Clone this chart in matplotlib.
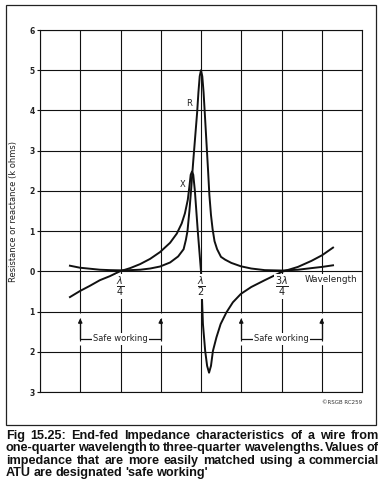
import matplotlib
matplotlib.use('Agg')
import matplotlib.pyplot as plt
from matplotlib.patches import Rectangle
from matplotlib.font_manager import FontProperties

W, H, DPI = 383, 504, 100

# ---- data (x in wavelengths, y in k ohms; negative = capacitive reactance) ----
r_x = [0.093, 0.124, 0.155, 0.186, 0.217, 0.248, 0.280, 0.311, 0.342, 0.373,
       0.404, 0.429, 0.446, 0.453, 0.458, 0.464, 0.469, 0.476, 0.482, 0.488,
       0.492, 0.496, 0.500, 0.504, 0.508, 0.512, 0.517, 0.522, 0.526, 0.531,
       0.536, 0.542, 0.550, 0.562, 0.575, 0.594, 0.624, 0.656, 0.698, 0.752,
       0.801, 0.843, 0.876, 0.910]
r_y = [0.14, 0.09, 0.065, 0.04, 0.03, 0.025, 0.03, 0.04, 0.07, 0.12,
       0.22, 0.37, 0.55, 0.78, 1.00, 1.50, 2.00, 2.75, 3.35, 3.95,
       4.45, 4.85, 5.00, 4.85, 4.45, 3.90, 3.20, 2.50, 1.90, 1.40,
       1.05, 0.75, 0.55, 0.36, 0.29, 0.21, 0.125, 0.07, 0.03, 0.02,
       0.04, 0.08, 0.11, 0.15]

x_x = [0.093, 0.124, 0.155, 0.186, 0.217, 0.248, 0.280, 0.311, 0.342, 0.373,
       0.404, 0.425, 0.440, 0.450, 0.459, 0.464, 0.468, 0.472, 0.476, 0.481,
       0.490, 0.500, 0.506, 0.513, 0.519, 0.525, 0.531, 0.537, 0.548, 0.561,
       0.579, 0.599, 0.624, 0.656, 0.698, 0.752, 0.801, 0.843, 0.876, 0.910]
x_y = [-0.64, -0.49, -0.36, -0.22, -0.12, 0.00, 0.08, 0.18, 0.31, 0.48,
       0.71, 0.94, 1.19, 1.44, 1.78, 2.11, 2.40, 2.48, 2.40, 2.00,
       1.00, 0.00, -1.31, -1.98, -2.35, -2.52, -2.35, -1.98, -1.64, -1.31,
       -1.02, -0.77, -0.56, -0.39, -0.22, -0.01, 0.11, 0.26, 0.40, 0.59]

y_ticks = [-3, -2, -1, 0, 1, 2, 3, 4, 5, 6]
y_tick_labels = ['3', '2', '1', '0', '1', '2', '3', '4', '5', '6']
x_grid = [0.0, 0.125, 0.25, 0.375, 0.5, 0.625, 0.75, 0.875, 1.0]
wl_marks = [0.25, 0.5, 0.75]
wl_labels = [r'$\frac{\lambda}{4}$', r'$\frac{\lambda}{2}$', r'$\frac{3\lambda}{4}$']
safe_ranges = [(0.125, 0.375), (0.625, 0.875)]
safe_label = 'Safe working'
caption_lines = [
    "Fig 15.25: End-fed Impedance characteristics of a wire from",
    "one-quarter wavelength to three-quarter wavelengths. Values of",
    "impedance that are more easily matched using a commercial",
    "ATU are designated 'safe working'",
]

fig = plt.figure(figsize=(W / DPI, H / DPI), dpi=DPI, facecolor='white')

L, R_, T, B = 40, 362, 30, 392
ax = fig.add_axes([L / W, 1 - B / H, (R_ - L) / W, (B - T) / H])
ax.set_xlim(0, 1)
ax.set_ylim(-3, 6)
ax.set_xticks(x_grid)
ax.set_xticklabels([])
ax.tick_params(axis='x', length=0)
ax.set_yticks(y_ticks)
ax.set_yticklabels(y_tick_labels, fontsize=5.5, fontweight='bold', color='#222')
ax.tick_params(axis='y', length=2.2, width=0.8, pad=1.5, color='#111')
ax.grid(True, color='#111', lw=0.8, zorder=1)
ax.set_axisbelow(True)
for s in ax.spines.values():
    s.set_linewidth(0.8)
    s.set_color('#111')
ax.set_ylabel('Resistance or reactance (k ohms)', fontsize=6, color='#222')
ax.yaxis.set_label_coords(-0.068, 0.5)

# gaps in grid near the safe-working arrows
for a, b in safe_ranges:
    for xv in (a, b):
        ax.plot([xv, xv], [-1.03, -1.15], color='white', lw=2.0, zorder=2,
                solid_capstyle='butt')
        ax.plot([xv, xv], [-1.72, -1.82], color='white', lw=2.0, zorder=2,
                solid_capstyle='butt')

# curves
ax.plot(r_x, r_y, color='#111', lw=1.4, zorder=3, solid_joinstyle='round')
ax.plot(x_x, x_y, color='#111', lw=1.4, zorder=3, solid_joinstyle='round')
ax.text(0.463, 4.17, 'R', fontsize=6, ha='center', va='center', color='#222', zorder=5)
ax.text(0.442, 2.17, 'X', fontsize=6, ha='center', va='center', color='#222', zorder=5)

# wavelength markers
for xv, lab in zip(wl_marks, wl_labels):
    ax.text(xv, -0.38, lab, fontsize=10, ha='center', va='center', color='#222',
            zorder=6, bbox=dict(fc='white', ec='none', pad=0.4))
ax.text(0.823, -0.2, 'Wavelength', fontsize=6.4, ha='left', va='center', color='#222',
        zorder=6, bbox=dict(fc='white', ec='none', pad=0.5))

# safe working brackets
for a, b in safe_ranges:
    ax.plot([a, a, b, b], [-1.25, -1.68, -1.68, -1.25], color='#111', lw=0.9, zorder=4)
    for xv in (a, b):
        ax.annotate('', xy=(xv, -1.17), xytext=(xv, -1.3),
                    arrowprops=dict(arrowstyle='-|>', color='#111', lw=0.9,
                                    mutation_scale=6, shrinkA=0, shrinkB=0),
                    zorder=5)
    ax.text((a + b) / 2, -1.68, safe_label, fontsize=6, ha='center', va='center',
            color='#222', zorder=6, bbox=dict(fc='white', ec='none', pad=1.0))

fig.text(362 / W, 1 - 402 / H, '\u00a9RSGB RC259', fontsize=4, ha='right', va='center',
         color='#333')

# outer frame
fig.patches.append(Rectangle((6 / W, 1 - 425 / H), 370 / W, 420 / H,
                             transform=fig.transFigure, fill=False, lw=0.9, ec='#222'))

# justified caption
fig.canvas.draw()
renderer = fig.canvas.get_renderer()

def text_w(s, fs):
    fp = FontProperties(family='Liberation Sans', weight='bold', size=fs)
    w, h, d = renderer.get_text_width_height_descent(s, fp, ismath=False)
    return w

x0, x1 = 6, 379
fs0 = 8.0
sp0 = text_w('a a', fs0) - text_w('aa', fs0)
fits = []
for line in caption_lines[:3]:
    words = line.split(' ')
    fits.append(fs0 * (x1 - x0) / (sum(text_w(w_, fs0) for w_ in words)
                                   + (len(words) - 1) * 0.55 * sp0))
fs = min(fits)
space = text_w('a a', fs) - text_w('aa', fs)
baselines = [439, 451, 464, 476]
for i, line in enumerate(caption_lines):
    words = line.split(' ')
    ws = [text_w(w_, fs) for w_ in words]
    if i < len(caption_lines) - 1:
        gap = ((x1 - x0) - sum(ws)) / (len(words) - 1)
    else:
        gap = space * 0.8
    xp = x0
    for w_, wd in zip(words, ws):
        fig.text(xp / W, 1 - baselines[i] / H, w_, fontsize=fs, fontweight='bold',
                 family='Liberation Sans', ha='left', va='baseline', color='#111')
        xp += wd + gap

fig.savefig('out.png', dpi=DPI, facecolor='white')
